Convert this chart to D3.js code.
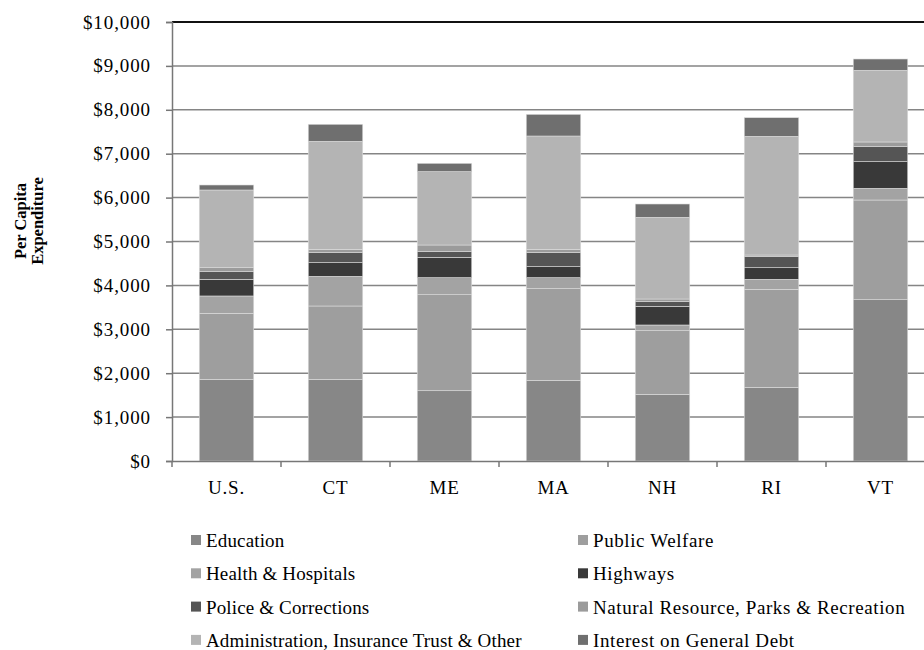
<!DOCTYPE html>
<html><head><meta charset="utf-8">
<script src="https://cdn.jsdelivr.net/npm/d3@7"></script>
<style>body{margin:0;background:#fff;} svg{display:block;font-family:"Liberation Serif","Times New Roman",serif;}</style>
</head><body>
<svg id="c" width="924" height="650"></svg>
<script>
const categories = ["U.S.", "CT", "ME", "MA", "NH", "RI", "VT"];
const seriesNames = ["Education", "Public Welfare", "Health & Hospitals", "Highways",
  "Police & Corrections", "Natural Resource, Parks & Recreation",
  "Administration, Insurance Trust & Other", "Interest on General Debt"];
const education      = [1861, 1861, 1601, 1838, 1519, 1679, 3674];
const publicWelfare  = [1503, 1670, 2187, 2087, 1449, 2232, 2271];
const health         = [395, 676, 388, 251, 130, 228, 267];
const highways       = [380, 311, 464, 251, 426, 264, 606];
const police         = [173, 227, 137, 318, 105, 251, 342];
const naturalRes     = [91, 77, 143, 77, 61, 38, 107];
const admin          = [1770, 2460, 1671, 2581, 1861, 2704, 1633];
const interest       = [114, 388, 190, 494, 303, 424, 257];
const yTicks = [0, 1000, 2000, 3000, 4000, 5000, 6000, 7000, 8000, 9000, 10000];
const colors = ["#878787", "#9e9e9e", "#a3a3a3", "#393939", "#555555", "#9b9b9b", "#b4b4b4", "#6f6f6f"];

const seriesVals = [education, publicWelfare, health, highways, police, naturalRes, admin, interest];
const rows = categories.map((c, i) => {
  const o = {cat: c};
  seriesNames.forEach((s, j) => o[s] = seriesVals[j][i]);
  return o;
});

const svg = d3.select("#c");
const mLeft = 172, mTop = 22, mBottom = 461, mRight = 935;
const x = d3.scaleBand().domain(categories).range([mLeft, mRight]).paddingInner(0.5).paddingOuter(0.25);
const y = d3.scaleLinear().domain([0, 10000]).range([mBottom, mTop]);

// gridlines
svg.append("g").selectAll("line").data(yTicks.filter(t => t > 0)).join("line")
  .attr("x1", mLeft).attr("x2", mRight)
  .attr("y1", d => y(d)).attr("y2", d => y(d))
  .attr("stroke", d => d === 10000 ? "#111" : "#858585")
  .attr("stroke-width", d => d === 10000 ? 2 : 1.5);

const stack = d3.stack().keys(seriesNames)(rows);
svg.append("g").selectAll("g").data(stack).join("g")
  .attr("fill", (d, i) => colors[i])
  .selectAll("rect").data(d => d).join("rect")
  .attr("x", d => x(d.data.cat))
  .attr("width", x.bandwidth())
  .attr("y", d => y(d[1]))
  .attr("height", d => y(d[0]) - y(d[1]))
  .attr("stroke", "#dcdcdc").attr("stroke-width", 0.6);

// y axis
const ya = svg.append("g").attr("transform", `translate(${mLeft},0)`)
  .call(d3.axisLeft(y).tickValues(yTicks).tickSize(6).tickPadding(15).tickFormat(d => "$" + d3.format(",")(d)));
ya.select(".domain").attr("stroke", "#777").attr("stroke-width", 1.5);
ya.selectAll(".tick line").attr("stroke", "#777").attr("stroke-width", 1.5);
ya.selectAll("text").attr("font-size", 19).attr("letter-spacing", 0.9).attr("fill", "#000").attr("font-family", "Liberation Serif");

// x axis
const xa = svg.append("g").attr("transform", `translate(0,${mBottom})`)
  .call(d3.axisBottom(x).tickSize(0).tickPadding(20));
xa.select(".domain").attr("stroke", "#777").attr("stroke-width", 1.5);
xa.selectAll("text").attr("font-size", 19).attr("letter-spacing", 0.8).attr("fill", "#000").attr("font-family", "Liberation Serif");
// x boundary ticks
const bounds = d3.range(0, categories.length + 1).map(i => mLeft + i * x.step());
svg.append("g").selectAll("line").data(bounds).join("line")
  .attr("x1", d => d).attr("x2", d => d).attr("y1", mBottom).attr("y2", mBottom + 6)
  .attr("stroke", "#777").attr("stroke-width", 1.5);

// y title
const yt = svg.append("text").attr("transform", "translate(27,221) rotate(-90)")
  .attr("text-anchor", "middle").attr("font-weight", "bold").attr("font-size", 16.5);
yt.append("tspan").attr("x", 0).attr("dy", "-0.05em").text("Per Capita");
yt.append("tspan").attr("x", 0).attr("dy", "1.05em").text("Expenditure");

// legend
const lg = svg.append("g").selectAll("g").data(seriesNames).join("g")
  .attr("transform", (d, i) => `translate(${i % 2 === 0 ? 191 : 578},${547 + Math.floor(i / 2) * 33.3})`);
lg.append("rect").attr("x", 0).attr("y", -12).attr("width", 10).attr("height", 10)
  .attr("fill", (d, i) => colors[i]);
lg.append("text").attr("x", 15).attr("y", 0)
  .attr("font-size", 19).attr("letter-spacing", (d, i) => i % 2 === 0 ? 0.15 : 0.6).text(d => d);
</script>
</body></html>
